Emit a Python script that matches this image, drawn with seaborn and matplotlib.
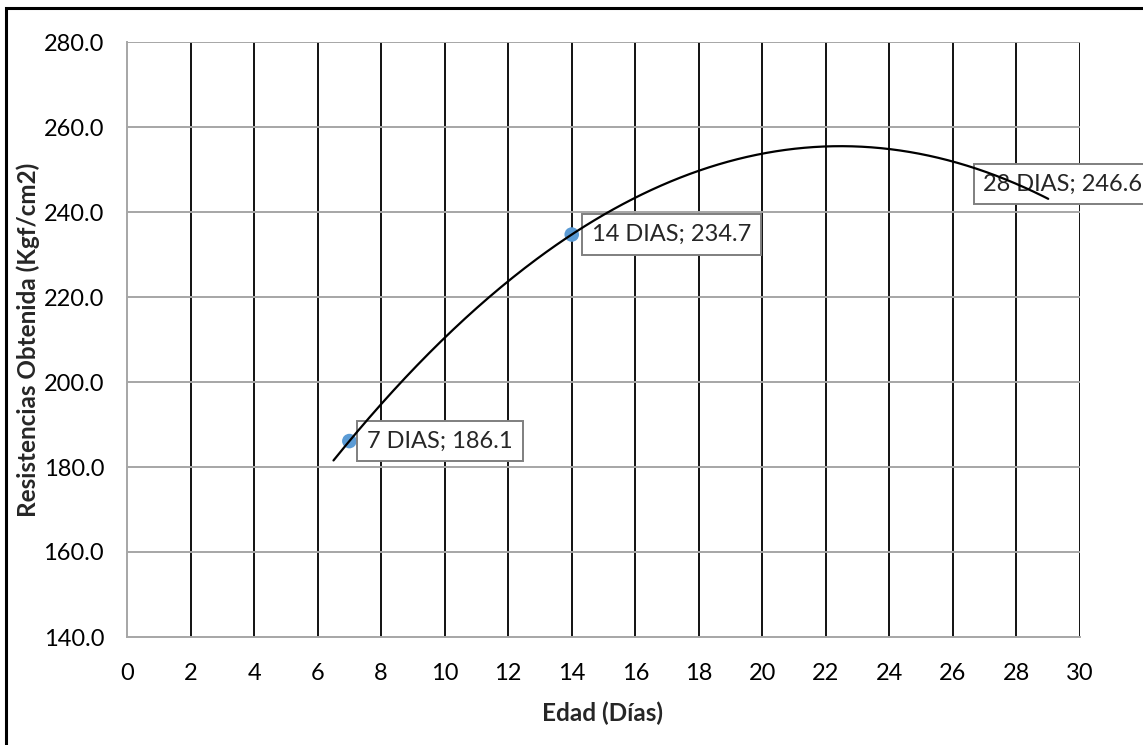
import numpy as np
import pandas as pd
import matplotlib
matplotlib.use("Agg")
import matplotlib.pyplot as plt
from matplotlib.patches import Rectangle
import seaborn as sns

# Compressive strength results by curing age
edad_dias = [7, 14, 28]
resistencia = [186.1, 234.7, 246.6]
etiquetas = ["7 DIAS", "14 DIAS", "28 DIAS"]

x_ticks = list(range(0, 31, 2))
y_ticks = [140.0, 160.0, 180.0, 200.0, 220.0, 240.0, 260.0, 280.0]

sns.set_style("white")
plt.rcParams["font.family"] = ["Lato", "DejaVu Sans"]

df = pd.DataFrame({"edad": edad_dias, "resistencia": resistencia})

# second-order polynomial trend, extended 0.5 day back and 1 day forward
coef = np.polyfit(edad_dias, resistencia, 2)
x_fit = np.linspace(min(edad_dias) - 0.5, max(edad_dias) + 1, 300)
trend = pd.DataFrame({"edad": x_fit, "resistencia": np.polyval(coef, x_fit)})

W, H = 1143, 745
X0, X1, Y0, Y1 = 127, 1080, 42, 637
fig = plt.figure(figsize=(W / 100, H / 100), dpi=100)
ax = fig.add_axes([X0 / W, 1 - Y1 / H, (X1 - X0) / W, (Y1 - Y0) / H])

GRAY = "#a6a6a6"
FS = 17
FS_LABEL = 17.5
ax.set_xlim(0, 30)
ax.set_ylim(140, 280)
ax.set_xticks(x_ticks)
ax.set_yticks(y_ticks)
ax.set_yticklabels([f"{v:.1f}" for v in y_ticks])

# vertical gridlines black, horizontal gray
for xv in x_ticks[1:]:
    ax.axvline(xv, color="#111111", lw=1.4, zorder=1)
for yv in y_ticks[1:]:
    ax.axhline(yv, color=GRAY, lw=1.4, zorder=1)

for side in ["top", "right"]:
    ax.spines[side].set_visible(False)
for side in ["left", "bottom"]:
    ax.spines[side].set_color(GRAY)
    ax.spines[side].set_linewidth(1.4)

ax.tick_params(axis="both", which="major", direction="out", length=6.5,
               width=1.2, color=GRAY, labelsize=FS, labelcolor="black")
ax.tick_params(axis="y", pad=10)
ax.tick_params(axis="x", pad=12)

sns.scatterplot(data=df, x="edad", y="resistencia", ax=ax, s=110,
                color="#5b9bd5", edgecolor="none", zorder=3, legend=False)

box = dict(boxstyle="square,pad=0.42", fc="white", ec="#7f7f7f", lw=1.4)
offsets = [(18, 0), (20, 0), (-33, 0)]
for xv, yv, lab, off in zip(edad_dias, resistencia, etiquetas, offsets):
    ax.annotate(f"{lab}; {yv:.1f}", xy=(xv, yv), xytext=off,
                textcoords="offset pixels", ha="left", va="center",
                fontsize=FS, bbox=box, zorder=4, annotation_clip=False)

sns.lineplot(data=trend, x="edad", y="resistencia", ax=ax, color="black",
             lw=1.6, zorder=5, sort=False)

ax.set_xlabel("Edad (Días)", fontsize=FS_LABEL, fontweight="bold")
ax.set_ylabel("Resistencias Obtenida (Kgf/cm2)", fontsize=FS_LABEL,
              fontweight="bold")
ax.xaxis.set_label_coords((603 - X0) / (X1 - X0), -(702 - Y1) / (Y1 - Y0),
                          transform=ax.transAxes)
ax.yaxis.set_label_coords(-(X0 - 40) / (X1 - X0), (Y1 - 340) / (Y1 - Y0),
                          transform=ax.transAxes)
ax.xaxis.label.set_va("top")

# chart frame
fig.patches.append(Rectangle((6 / W, -0.5), 2, 0.5 + (1 - 8 / H),
                             transform=fig.transFigure, fill=False,
                             ec="black", lw=2.2, zorder=0))

fig.savefig("out.png", dpi=100, facecolor="white")
